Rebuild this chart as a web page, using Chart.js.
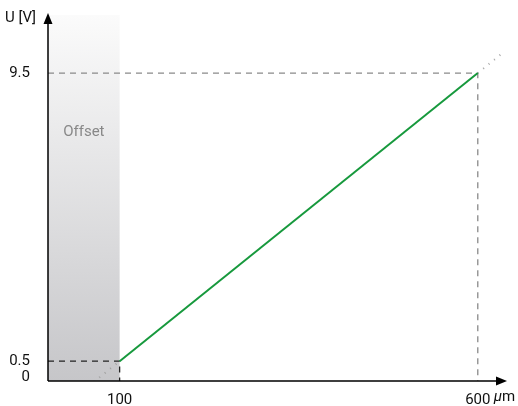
<!DOCTYPE html>
<html>
<head>
<meta charset="utf-8">
<script src="https://cdn.jsdelivr.net/npm/chart.js@4"></script>
<style>
  body { margin: 0; background: #fff; }
  #wrap { width: 518px; height: 406px; }
</style>
</head>
<body>
<div id="wrap"><canvas id="chart"></canvas></div>
<script>
const FONT = "'Roboto', sans-serif";

// data
const xTicks = [100, 600];
const yTicks = [0, 0.5, 9.5];
const lineX = [100, 600];
const lineY = [0.5, 9.5];
const extLowX = [64, 100];
const extLowY = [-0.15, 0.5];
const extHighX = [600, 632];
const extHighY = [9.5, 10.08];
const offsetRange = [0, 100];

const pts = (xs, ys) => xs.map((x, i) => ({ x: x, y: ys[i] }));

const overlay = {
  id: "overlay",
  beforeDatasetsDraw(chart) {
    const { ctx, chartArea, scales } = chart;
    const x0 = scales.x.getPixelForValue(offsetRange[0]);
    const x1 = scales.x.getPixelForValue(offsetRange[1]);
    const top = chartArea.top - 4;
    const g = ctx.createLinearGradient(0, top, 0, chartArea.bottom);
    g.addColorStop(0, "#fbfbfb");
    g.addColorStop(1, "#c6c6c9");
    ctx.save();
    ctx.fillStyle = g;
    ctx.fillRect(x0, top, x1 - x0, chartArea.bottom - top);
    ctx.fillStyle = "#888";
    ctx.font = "15px " + FONT;
    ctx.textAlign = "center";
    ctx.textBaseline = "middle";
    ctx.fillText("Offset", (x0 + x1) / 2, 132);
    ctx.restore();
  },
  afterDatasetsDraw(chart) {
    const { ctx, chartArea, scales } = chart;
    const ox = chartArea.left, oy = chartArea.bottom;
    const top = chartArea.top - 4;
    ctx.save();
    ctx.strokeStyle = "#000";
    ctx.fillStyle = "#000";
    ctx.lineWidth = 1.5;
    ctx.beginPath();
    ctx.moveTo(ox, oy);
    ctx.lineTo(ox, top + 4);
    ctx.moveTo(ox, oy);
    ctx.lineTo(chartArea.right - 4, oy);
    ctx.stroke();
    // arrow heads
    ctx.beginPath();
    ctx.moveTo(ox, top - 2);
    ctx.lineTo(ox - 4.5, top + 9);
    ctx.lineTo(ox + 4.5, top + 9);
    ctx.closePath();
    ctx.fill();
    ctx.beginPath();
    ctx.moveTo(chartArea.right + 2, oy);
    ctx.lineTo(chartArea.right - 9, oy - 4.5);
    ctx.lineTo(chartArea.right - 9, oy + 4.5);
    ctx.closePath();
    ctx.fill();
    // labels
    ctx.font = "15px " + FONT;
    ctx.textBaseline = "middle";
    ctx.textAlign = "left";
    ctx.fillStyle = "#111";
    ctx.fillText("U [V]", 5, 18);
    const px = scales.x.getPixelForValue(600) + 16;
    ctx.font = "italic 15px " + FONT;
    ctx.fillText("\u00b5", px, 397);
    const w = ctx.measureText("\u00b5").width;
    ctx.font = "15px " + FONT;
    ctx.fillText("m", px + w, 397);
    ctx.restore();
  }
};

new Chart(document.getElementById("chart"), {
  type: "line",
  data: {
    datasets: [
      { data: pts(lineX, lineY), borderColor: "#17993d", borderWidth: 2, pointRadius: 0 },
      { data: pts(extLowX, extLowY), borderColor: "#a0a0a0", borderWidth: 2, borderDash: [1, 6], pointRadius: 0 },
      { data: pts(extHighX, extHighY), borderColor: "#a8a8a8", borderWidth: 2, borderDash: [1, 6], pointRadius: 0 },
      { data: pts([0, 100, 100], [0.5, 0.5, -0.12]), borderColor: "#222", borderWidth: 1.3, borderDash: [6, 5], pointRadius: 0 },
      { data: pts([0, 600, 600], [9.5, 9.5, -0.12]), borderColor: "#8a8a8a", borderWidth: 1.3, borderDash: [6, 5], pointRadius: 0 }
    ]
  },
  options: {
    responsive: true,
    maintainAspectRatio: false,
    animation: false,
    layout: { padding: { top: 8, right: 13, left: 0, bottom: 0 } },
    plugins: { legend: { display: false }, tooltip: { enabled: false } },
    scales: {
      x: {
        type: "linear",
        min: 0,
        max: 638,
        grid: { display: false },
        border: { display: false },
        afterBuildTicks: (s) => { s.ticks = xTicks.map(v => ({ value: v })); },
        afterFit: (s) => { s.height = 25; },
        ticks: { color: "#111", font: { family: FONT, size: 15 }, padding: 2, maxRotation: 0 }
      },
      y: {
        type: "linear",
        min: -0.12,
        max: 11.19,
        grid: { display: false },
        border: { display: false },
        afterBuildTicks: (s) => { s.ticks = yTicks.map(v => ({ value: v })); },
        afterFit: (s) => { s.width = 48; },
        ticks: { color: "#111", font: { family: FONT, size: 15 }, padding: 10 }
      }
    }
  },
  plugins: [overlay]
});
</script>
</body>
</html>
